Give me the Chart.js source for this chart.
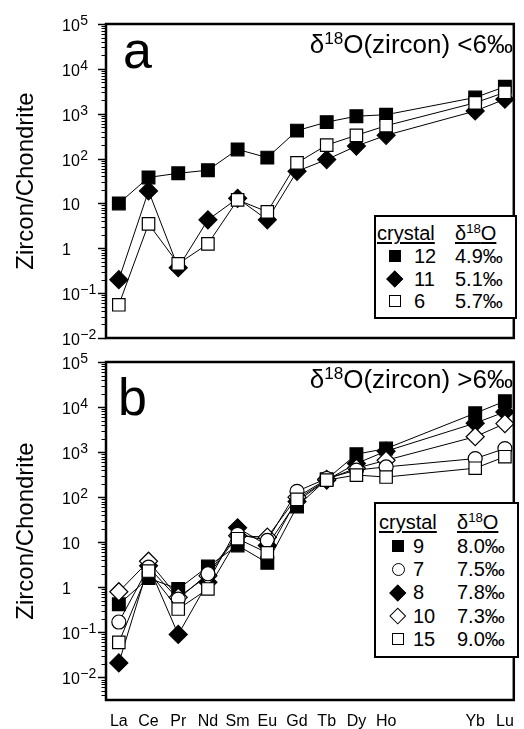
<!DOCTYPE html>
<html>
<head>
<meta charset="utf-8">
<script src="https://cdn.jsdelivr.net/npm/chart.js@4.4.0/dist/chart.umd.min.js"></script>
<style>
  html, body { margin: 0; padding: 0; background: #fff; }
  #wrap { position: relative; width: 524px; height: 729px; overflow: hidden;
          font-family: "Liberation Sans", Arial, Helvetica, sans-serif; color: #000; }
  canvas { position: absolute; left: 0; }
  #cA { top: 0; }
  #cB { top: 350px; }
  .tag { position: absolute; font-size: 52px; line-height: 1; }
  .sub { position: absolute; right: 11px; font-size: 26px; line-height: 1; white-space: nowrap; }
  .sup { position: relative; font-size: 0.66em; top: -0.5em; }
  .leg { position: absolute; border: 2px solid #000; box-sizing: border-box; background: #fff; }
  .leg div { position: absolute; font-size: 20px; line-height: 1; white-space: nowrap; }
  .leg .hd { text-decoration: underline; text-decoration-thickness: 1.5px; text-underline-offset: 2px; }
  .leg .sym { position: absolute; box-sizing: border-box; border: 1.3px solid #000; }
</style>
</head>
<body>
<div id="wrap">
  <canvas id="cA" width="524" height="350"></canvas>
  <canvas id="cB" width="524" height="379"></canvas>
  <div class="tag" style="left:123px; top:24px;">a</div>
  <div class="tag" style="left:118px; top:371px;">b</div>
  <div class="sub" style="top:31px;">δ<span class="sup">18</span>O(zircon) &lt;6‰</div>
  <div class="sub" style="top:366px;">δ<span class="sup">18</span>O(zircon) &gt;6‰</div>
  <div id="legA" class="leg"></div>
  <div id="legB" class="leg"></div>
</div>
<script>
var FONT = '"Liberation Sans", Arial, Helvetica, sans-serif';

// rare earth elements along x (Er, Tm not measured)
var elements = ["La", "Ce", "Pr", "Nd", "Sm", "Eu", "Gd", "Tb", "Dy", "Ho", "Er", "Tm", "Yb", "Lu"];

// panel a : d18O(zircon) < 6 permil
var crystalsA = ["12", "11", "6"];
var d18oA = ["4.9‰", "5.1‰", "5.7‰"];
var c12 = [10, 38, 47, 55, 160, 105, 420, 650, 880, 950, null, null, 2300, 4000];
var c11 = [0.2, 19, 0.37, 4.3, 13, 4.3, 52, 95, 190, 330, null, null, 1150, 2100];
var c6 = [0.055, 3.5, 0.45, 1.25, 12, 6.5, 80, 200, 330, 540, null, null, 1750, 3000];

// panel b : d18O(zircon) > 6 permil
var crystalsB = ["9", "7", "8", "10", "15"];
var d18oB = ["8.0‰", "7.5‰", "7.8‰", "7.3‰", "9.0‰"];
var c9 = [0.42, 1.6, 0.92, 2.9, 8.5, 3.5, 62, 250, 900, 1200, null, null, 7300, 13500];
var c7 = [0.17, 2.8, 0.55, 2.0, 15, 11, 135, 260, 400, 470, null, null, 720, 1200];
var c8 = [0.021, 3.0, 0.09, 1.3, 21, 8.5, 80, 240, 560, 1050, null, null, 4400, 7800];
var c10 = [0.8, 3.8, 0.6, 1.8, 14, 13, 100, 250, 440, 660, null, null, 2200, 4300];
var c15 = [0.06, 2.3, 0.33, 0.92, 12, 5.8, 90, 240, 310, 280, null, null, 440, 790];

// y tick labels (base + superscript)
var yTickVals = [0.01, 0.1, 1, 10, 100, 1000, 10000, 100000];
var yTickBase = ["10", "10", "1", "10", "10", "10", "10", "10"];
var yTickExp = ["\u22122", "\u22121", "", "", "2", "3", "4", "5"];

// marker styles
var MARK = {
  fsq: { style: "rect", r: 9, fill: "#000" },
  fdia: { style: "rectRot", r: 9, fill: "#000" },
  osq: { style: "rect", r: 8.8, fill: "#fff" },
  circ: { style: "circle", r: 7, fill: "#fff" },
  odia: { style: "rectRot", r: 9, fill: "#fff" }
};
var marksA = ["fsq", "fdia", "osq"];
var marksB = ["fsq", "circ", "fdia", "odia", "osq"];

function pts(vals) {
  var out = [];
  vals.forEach(function (v, i) {
    if (v != null) out.push({ x: i, y: v });
  });
  return out;
}

function series(label, vals, mark, ord) {
  var m = MARK[mark];
  return {
    label: label,
    data: pts(vals),
    order: ord,
    borderColor: "#000",
    borderWidth: 1,
    pointStyle: m.style,
    pointRadius: m.r,
    pointBackgroundColor: m.fill,
    pointBorderColor: "#000",
    pointBorderWidth: 1.2,
    tension: 0,
    clip: false
  };
}

function logTicks(scale) {
  var t = [];
  for (var e = -3; e <= 5; e++) {
    for (var k = 1; k <= 9; k++) {
      var v = k * Math.pow(10, e);
      if (v >= scale.min * 0.999 && v <= scale.max * 1.001) t.push({ value: v });
    }
  }
  scale.ticks = t;
}

function isPow10(v) {
  var l = Math.log10(v);
  return Math.abs(l - Math.round(l)) < 1e-6;
}

// frame, left tick marks and y labels with superscripts
var axisPlugin = {
  id: "axisDeco",
  afterDraw: function (chart) {
    var a = chart.chartArea, ctx = chart.ctx, s = chart.scales.y;
    ctx.save();
    ctx.strokeStyle = "#000";
    ctx.fillStyle = "#000";
    ctx.lineWidth = 2.5;
    ctx.strokeRect(a.left, a.top, a.right - a.left, a.bottom - a.top);
    s.ticks.forEach(function (t) {
      var y = Math.round(s.getPixelForValue(t.value)) + 0.5;
      var major = isPow10(t.value);
      ctx.lineWidth = major ? 1.5 : 1;
      ctx.beginPath();
      ctx.moveTo(a.left, y);
      ctx.lineTo(a.left - (major ? 8 : 4.5), y);
      ctx.stroke();
    });
    ctx.textAlign = "left";
    ctx.textBaseline = "alphabetic";
    yTickVals.forEach(function (v, i) {
      if (v < s.min * 0.999 || v > s.max * 1.001) return;
      var y = s.getPixelForValue(v) + 7;
      ctx.font = "16px " + FONT;
      ctx.fillText(yTickBase[i], 62, y);
      if (yTickExp[i]) {
        var w = ctx.measureText(yTickBase[i]).width;
        ctx.font = "14px " + FONT;
        ctx.fillText(yTickExp[i], 62 + w + 0.5, y - 6);
      }
    });
    ctx.restore();
  }
};

function makeChart(id, datasets, yMin, pad, showX) {
  return new Chart(document.getElementById(id), {
    type: "line",
    data: { datasets: datasets },
    plugins: [axisPlugin],
    options: {
      responsive: false,
      animation: false,
      events: [],
      layout: { padding: pad },
      plugins: { legend: { display: false }, tooltip: { enabled: false } },
      scales: {
        x: {
          type: "linear",
          display: showX,
          min: -0.432,
          max: 13.3,
          grid: { display: false },
          border: { display: false },
          afterBuildTicks: function (scale) {
            var t = [];
            elements.forEach(function (el, i) {
              if (c9[i] != null) t.push({ value: i });
            });
            scale.ticks = t;
          },
          afterFit: function (scale) { scale.height = showX ? 29 : 0; },
          ticks: {
            autoSkip: false,
            maxRotation: 0,
            padding: 4,
            color: "#000",
            font: { family: FONT, size: 16 },
            callback: function (v) { return elements[v]; }
          }
        },
        y: {
          type: "logarithmic",
          min: yMin,
          max: 100000,
          grid: { display: false },
          border: { display: false },
          ticks: { display: false },
          afterBuildTicks: logTicks,
          afterFit: function (scale) { scale.width = 106; },
          title: {
            display: true,
            text: "Zircon/Chondrite",
            color: "#000",
            font: { family: FONT, size: 24 },
            padding: { top: 12, bottom: 0 }
          }
        }
      }
    }
  });
}

makeChart("cA", [
  series(crystalsA[0], c12, marksA[0], 3),
  series(crystalsA[1], c11, marksA[1], 2),
  series(crystalsA[2], c6, marksA[2], 1)
], 0.01, { top: 24, right: 5, bottom: 12, left: 0 }, false);

makeChart("cB", [
  series(crystalsB[0], c9, marksB[0], 5),
  series(crystalsB[1], c7, marksB[1], 2),
  series(crystalsB[2], c8, marksB[2], 4),
  series(crystalsB[3], c10, marksB[3], 3),
  series(crystalsB[4], c15, marksB[4], 1)
], Math.pow(10, -2.5), { top: 12, right: 5, bottom: 0, left: 0 }, true);

// legend tables
function symbol(mark, cx, cy) {
  var d = document.createElement("span");
  d.className = "sym";
  var sz = 12;
  d.style.background = MARK[mark].fill;
  if (mark === "circ") { sz = 13; d.style.borderRadius = "50%"; }
  if (mark === "fdia" || mark === "odia") { sz = 11.5; d.style.transform = "rotate(45deg)"; }
  d.style.width = sz + "px";
  d.style.height = sz + "px";
  d.style.left = (cx - sz / 2) + "px";
  d.style.top = (cy - sz / 2) + "px";
  return d;
}

function text(html, left, top, cls) {
  var d = document.createElement("div");
  d.innerHTML = html;
  if (cls) d.className = cls;
  d.style.left = left + "px";
  d.style.top = top + "px";
  return d;
}

function buildLegend(id, box, crystals, d18o, marks) {
  var el = document.getElementById(id);
  el.style.left = box.left + "px";
  el.style.top = box.top + "px";
  el.style.width = box.w + "px";
  el.style.height = box.h + "px";
  el.appendChild(text("crystal", box.colA, box.head, "hd"));
  el.appendChild(text('δ<span class="sup">18</span>O', box.colC, box.head, "hd"));
  crystals.forEach(function (c, i) {
    var top = box.row0 + i * box.step;
    el.appendChild(symbol(marks[i], box.symX, top + 10));
    el.appendChild(text(c, box.colB, top));
    el.appendChild(text(d18o[i], box.colC, top));
  });
}

buildLegend("legA", { left: 374, top: 215, w: 143, h: 104, head: 6, row0: 29, step: 22.5,
  colA: 1, colB: 38, colC: 79, symX: 19 }, crystalsA, d18oA, marksA);
buildLegend("legB", { left: 374, top: 502, w: 145, h: 156, head: 8, row0: 32, step: 23.2,
  colA: 3, colB: 37, colC: 81, symX: 22 }, crystalsB, d18oB, marksB);
</script>
</body>
</html>
